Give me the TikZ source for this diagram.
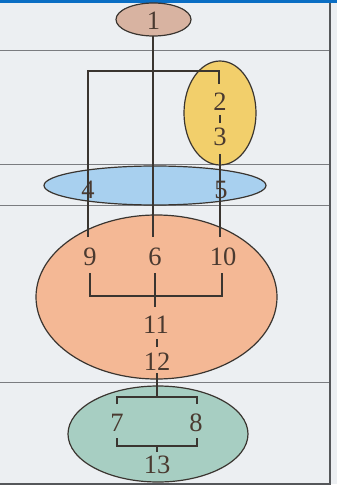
\documentclass[tikz,border=0pt]{standalone}
\usepackage{fontspec}
\setmainfont{Liberation Serif}
\usetikzlibrary{shapes.geometric}
\definecolor{bg}{HTML}{ECEFF2}
\definecolor{barblue}{HTML}{0A6EC4}
\definecolor{cOne}{HTML}{D8B3A1}
\definecolor{cYel}{HTML}{F2CF6B}
\definecolor{cBlue}{HTML}{A8D0EF}
\definecolor{cSal}{HTML}{F4B895}
\definecolor{cGrn}{HTML}{A7CEC2}
\definecolor{ink}{HTML}{3A3530}
\definecolor{txt}{HTML}{4A3A30}
\definecolor{rule}{HTML}{7A7C80}
\begin{document}
\begin{tikzpicture}[x=1pt,y=-1pt,
  blob/.style={ellipse, draw=ink, line width=1.2pt, inner sep=0pt},
  num/.style={inner sep=0pt, font=\fontsize{26.5}{26.5}\selectfont, text=txt},
  wire/.style={draw=ink, line width=1.9pt},
  hrule/.style={draw=rule, line width=0.9pt}]
\useasboundingbox (0,0) rectangle (337,497);
\fill[white] (0,0) rectangle (337,497);
\fill[bg] (0,0) rectangle (337,484);
\fill[barblue] (0,0) rectangle (337,3.5);
% table rules
\draw[hrule] (0,50) -- (330,50);
\draw[hrule] (0,164) -- (330,164);
\draw[hrule] (0,205) -- (330,205);
\draw[hrule] (0,382) -- (330,382);
\draw[draw=rule!70!black, line width=1.8pt] (330,3.5) -- (330,484) -- (0,484);
% ellipses
\node[blob, fill=cOne, minimum width=75pt, minimum height=33pt] (e1) at (153.5,19.5) {};
\node[blob, fill=cYel, minimum width=72pt, minimum height=104pt] (e23) at (220,113) {};
\node[blob, fill=cBlue, minimum width=222pt, minimum height=39pt] (e45) at (155,185.5) {};
\node[blob, fill=cSal, minimum width=241pt, minimum height=164pt] (e6) at (156.5,297) {};
\node[blob, fill=cGrn, minimum width=180pt, minimum height=96pt] (e78) at (158,434) {};
% labels
\node[num] (n1) at (153.5,21) {1};
\node[num] (n2) at (220,102) {2};
\node[num] (n3) at (220,137) {3};
\node[num] (n4) at (88,190) {4};
\node[num] (n5) at (221,190) {5};
\node[num] (n9) at (90,257) {9};
\node[num] (n6) at (155,257) {6};
\node[num] (n10) at (223,257) {10};
\node[num] (n11) at (156,325) {11};
\node[num] (n12) at (157,362) {12};
\node[num] (n7) at (117,423) {7};
\node[num] (n8) at (196,423) {8};
\node[num] (n13) at (157,465) {13};
% connector coordinates
\coordinate (top1) at (153,36);
\coordinate (bL) at (88,71);
\coordinate (bR) at (219,71);
\coordinate (in2) at (219,84);
\coordinate (c9t) at (88,237);
\coordinate (c6t) at (153,237);
\coordinate (c3b) at (220,154);
\coordinate (c10t) at (220,237);
\coordinate (d2) at (220,115);
\coordinate (d3) at (220,123);
\coordinate (l9) at (90,273);
\coordinate (l9b) at (90,296);
\coordinate (l10) at (222,273);
\coordinate (l10b) at (222,296);
\coordinate (l6) at (155,273);
\coordinate (l6b) at (155,307);
\coordinate (d11) at (157,339);
\coordinate (d12) at (157,347);
\coordinate (c12b) at (157,373);
\coordinate (j78) at (157,397);
\coordinate (k7) at (117,397);
\coordinate (k7b) at (117,404);
\coordinate (k8) at (197,397);
\coordinate (k8b) at (197,404);
\coordinate (m7) at (117,438);
\coordinate (m7b) at (117,446);
\coordinate (m8) at (197,438);
\coordinate (m8b) at (197,446);
\coordinate (t13) at (157,446);
\coordinate (t13b) at (157,452);
% connectors
\draw[wire] (top1) -- (c6t);
\draw[wire] (c9t) -- (bL) -- (bR) -- (in2);
\draw[wire] (d2) -- (d3);
\draw[wire] (c3b) -- (c10t);
\draw[wire] (l9) -- (l9b) -- (l10b) -- (l10);
\draw[wire] (l6) -- (l6b);
\draw[wire] (d11) -- (d12);
\draw[wire] (c12b) -- (j78);
\draw[wire] (k7b) -- (k7) -- (k8) -- (k8b);
\draw[wire] (m7) -- (m7b) -- (m8b) -- (m8);
\draw[wire] (t13) -- (t13b);
\end{tikzpicture}
\end{document}
